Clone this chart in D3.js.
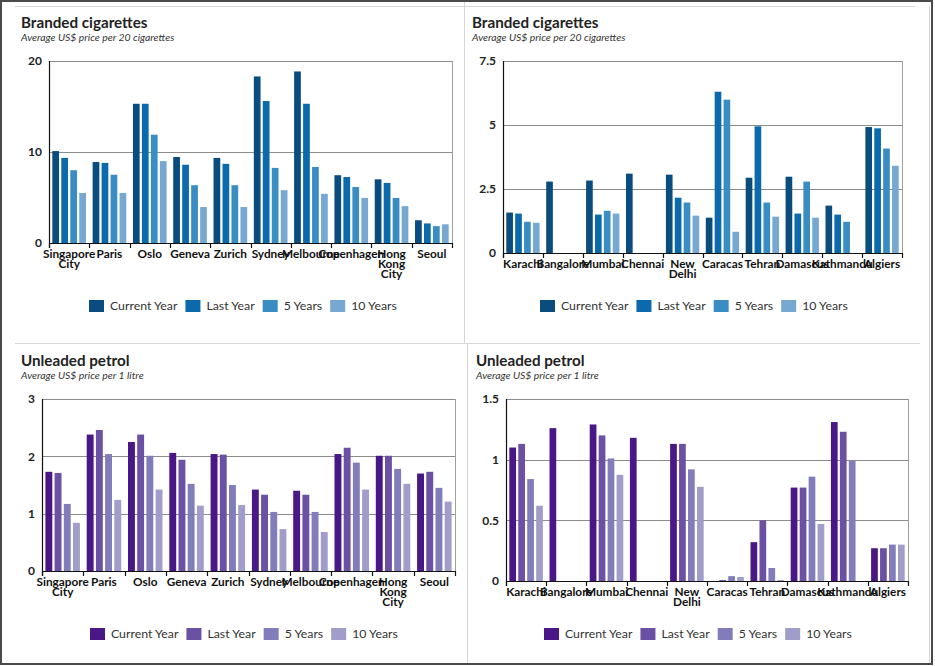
<!DOCTYPE html>
<html><head><meta charset="utf-8">
<script src="https://cdn.jsdelivr.net/npm/d3@7"></script>
<style>body{margin:0;background:#fff}svg{display:block;font-family:Lato,"Open Sans",sans-serif}</style>
</head><body><svg id="c" width="935" height="666"></svg>
<script>
// ---- data ----
const seriesNames = ["Current Year", "Last Year", "5 Years", "10 Years"];
const citiesExpensive = ["Singapore City", "Paris", "Oslo", "Geneva", "Zurich", "Sydney", "Melbourne", "Copenhagen", "Hong Kong City", "Seoul"];
const citiesCheap = ["Karachi", "Bangalore", "Mumbai", "Chennai", "New Delhi", "Caracas", "Tehran", "Damascus", "Kathmandu", "Algiers"];

const cigExpCurrent = [10.1, 8.9, 15.3, 9.45, 9.35, 18.3, 18.85, 7.45, 7.0, 2.5];
const cigExpLast    = [9.35, 8.8, 15.3, 8.6, 8.7, 15.6, 15.3, 7.25, 6.6, 2.15];
const cigExp5       = [8.0, 7.5, 11.9, 6.35, 6.35, 8.25, 8.35, 6.15, 4.95, 1.85];
const cigExp10      = [5.5, 5.5, 9.0, 3.95, 3.95, 5.8, 5.4, 4.95, 4.05, 2.05];
const cigExpTicks   = [0, 10, 20];

const cigCheapCurrent = [1.58, 2.79, 2.83, 3.10, 3.06, 1.38, 2.94, 2.98, 1.85, 4.92];
const cigCheapLast    = [1.54, null, 1.50, null, 2.16, 6.30, 4.95, 1.54, 1.50, 4.87];
const cigCheap5       = [1.22, null, 1.65, null, 1.97, 5.99, 1.97, 2.79, 1.22, 4.08];
const cigCheap10      = [1.18, null, 1.54, null, 1.46, 0.83, 1.42, 1.38, null, 3.41];
const cigCheapTicks   = [0, 2.5, 5, 7.5];

const petExpCurrent = [1.73, 2.38, 2.25, 2.06, 2.04, 1.42, 1.40, 2.04, 2.01, 1.70];
const petExpLast    = [1.71, 2.46, 2.38, 1.94, 2.03, 1.33, 1.33, 2.15, 2.01, 1.73];
const petExp5       = [1.17, 2.04, 2.01, 1.52, 1.50, 1.03, 1.03, 1.89, 1.78, 1.45];
const petExp10      = [0.84, 1.24, 1.42, 1.14, 1.15, 0.73, 0.68, 1.42, 1.52, 1.21];
const petExpTicks   = [0, 1, 2, 3];

const petCheapCurrent = [1.10, 1.26, 1.29, 1.18, 1.13, 0, 0.32, 0.77, 1.31, 0.27];
const petCheapLast    = [1.13, null, 1.20, null, 1.13, 0.008, 0.50, 0.77, 1.23, 0.27];
const petCheap5       = [0.84, null, 1.01, null, 0.92, 0.04, 0.107, 0.86, 0.99, 0.30];
const petCheap10      = [0.62, null, 0.875, null, 0.776, 0.033, 0.008, 0.47, null, 0.30];
const petCheapTicks   = [0, 0.5, 1, 1.5];

const cigColors = ["#0a4c7d", "#0a6aab", "#3a8dc3", "#76a8d2"];
const petColors = ["#4a1786", "#6a51a3", "#807dba", "#a09dca"];

// ---- layout ----
const svg = d3.select("#c");

svg.append("rect").attr("x", 1).attr("y", 1).attr("width", 931).attr("height", 663)
  .attr("fill", "none").attr("stroke", "#4a4a4a").attr("stroke-width", 2);
const frameLines = [
  [15, 6.5, 915, 6.5], [464.5, 2, 464.5, 344], [15, 343.5, 920, 343.5],
  [467.5, 344, 467.5, 663], [929.5, 6, 929.5, 663]
];
svg.selectAll("line.frame").data(frameLines).enter().append("line").attr("class", "frame")
  .attr("x1", d => d[0]).attr("y1", d => d[1]).attr("x2", d => d[2]).attr("y2", d => d[3])
  .attr("stroke", "#d6d6d6").attr("stroke-width", 1);

const panels = [
  {title: "Branded cigarettes", sub: "Average US$ price per 20 cigarettes", cats: citiesExpensive,
   series: [cigExpCurrent, cigExpLast, cigExp5, cigExp10], ticks: cigExpTicks, colors: cigColors,
   L: 49, T: 61, R: 452, B: 243, tx: 21, ty: 28, sy: 41, lx: 89, ly: 306},
  {title: "Branded cigarettes", sub: "Average US$ price per 20 cigarettes", cats: citiesCheap,
   series: [cigCheapCurrent, cigCheapLast, cigCheap5, cigCheap10], ticks: cigCheapTicks, colors: cigColors,
   L: 503, T: 61, R: 902, B: 253, tx: 472, ty: 28, sy: 41, lx: 540, ly: 306},
  {title: "Unleaded petrol", sub: "Average US$ price per 1 litre", cats: citiesExpensive,
   series: [petExpCurrent, petExpLast, petExp5, petExp10], ticks: petExpTicks, colors: petColors,
   L: 42, T: 399, R: 455, B: 571, tx: 21, ty: 366, sy: 379, lx: 90, ly: 634},
  {title: "Unleaded petrol", sub: "Average US$ price per 1 litre", cats: citiesCheap,
   series: [petCheapCurrent, petCheapLast, petCheap5, petCheap10], ticks: petCheapTicks, colors: petColors,
   L: 506, T: 399, R: 908, B: 581, tx: 476, ty: 366, sy: 379, lx: 544, ly: 634}
];

panels.forEach(p => {
  const g = svg.append("g");
  g.append("text").attr("x", p.tx).attr("y", p.ty).text(p.title)
    .attr("font-size", 15.2).attr("font-weight", 700).attr("fill", "#222");
  g.append("text").attr("x", p.tx).attr("y", p.sy).text(p.sub)
    .attr("font-size", 10.4).attr("font-style", "italic").attr("fill", "#333");

  const yMax = p.ticks[p.ticks.length - 1];
  const y = d3.scaleLinear().domain([0, yMax]).range([p.B, p.T]);
  const x0 = d3.scaleBand().domain(p.cats).range([p.L, p.R]).padding(0);
  const x1 = d3.scaleBand().domain(seriesNames).range([0, x0.bandwidth()])
    .paddingInner(0.25).paddingOuter(0.37);
  const color = d3.scaleOrdinal().domain(seriesNames).range(p.colors);

  g.selectAll("line.grid").data(p.ticks.filter(t => t > 0)).enter().append("line")
    .attr("x1", p.L).attr("x2", p.R).attr("y1", d => Math.round(y(d)) + 0.5).attr("y2", d => Math.round(y(d)) + 0.5)
    .attr("stroke", "#8c8c8c").attr("stroke-width", 1);
  g.append("line").attr("x1", p.R + 0.5).attr("x2", p.R + 0.5).attr("y1", p.T).attr("y2", p.B)
    .attr("stroke", "#a0a0a0");

  g.selectAll("text.yl").data(p.ticks).enter().append("text")
    .attr("x", p.L - 7).attr("y", d => y(d)).attr("dy", "0.35em").attr("text-anchor", "end")
    .attr("font-size", 12).attr("font-weight", 700).attr("fill", "#222")
    .text(d => d3.format("")(d));

  const rows = p.cats.map((c, i) => ({cat: c, vals: seriesNames.map((s, j) => ({s, v: p.series[j][i]}))}));
  const grp = g.selectAll("g.grp").data(rows).enter().append("g")
    .attr("transform", d => `translate(${x0(d.cat)},0)`);
  grp.selectAll("rect").data(d => d.vals.filter(e => e.v !== null)).enter().append("rect")
    .attr("x", d => x1(d.s)).attr("width", x1.bandwidth())
    .attr("y", d => y(d.v)).attr("height", d => y(0) - y(d.v))
    .attr("fill", d => color(d.s));

  g.append("line").attr("x1", p.L + 0.5).attr("x2", p.L + 0.5).attr("y1", p.T).attr("y2", p.B + 5)
    .attr("stroke", "#111").attr("stroke-width", 1.2);
  g.append("line").attr("x1", p.L).attr("x2", p.R + 1).attr("y1", p.B + 0.5).attr("y2", p.B + 0.5)
    .attr("stroke", "#111").attr("stroke-width", 1.2);
  const bounds = p.cats.map(c => x0(c)).concat([p.R]);
  g.selectAll("line.tk").data(bounds).enter().append("line")
    .attr("x1", d => Math.round(d) + 0.5).attr("x2", d => Math.round(d) + 0.5)
    .attr("y1", p.B).attr("y2", p.B + 5).attr("stroke", "#111").attr("stroke-width", 1.2);

  const lbl = g.selectAll("text.cl").data(p.cats).enter().append("text")
    .attr("x", d => x0(d) + x0.bandwidth() / 2).attr("y", p.B + 15)
    .attr("text-anchor", "middle").attr("font-size", 11.8).attr("font-weight", 700).attr("fill", "#111");
  lbl.each(function(d) {
    const words = d.split(" ");
    d3.select(this).selectAll("tspan").data(words).enter().append("tspan")
      .attr("x", x0(d) + x0.bandwidth() / 2).attr("dy", (w, i) => i === 0 ? 0 : 10).text(w => w);
  });

  let lx = p.lx;
  seriesNames.forEach((s, i) => {
    g.append("rect").attr("x", lx).attr("y", p.ly - 6).attr("width", 15).attr("height", 12)
      .attr("fill", p.colors[i]);
    const t = g.append("text").attr("x", lx + 21).attr("y", p.ly).attr("dy", "0.35em")
      .attr("font-size", 12.3).attr("fill", "#333").text(s);
    lx += 21 + t.node().getComputedTextLength() + 8;
  });
});
</script>
</body></html>
